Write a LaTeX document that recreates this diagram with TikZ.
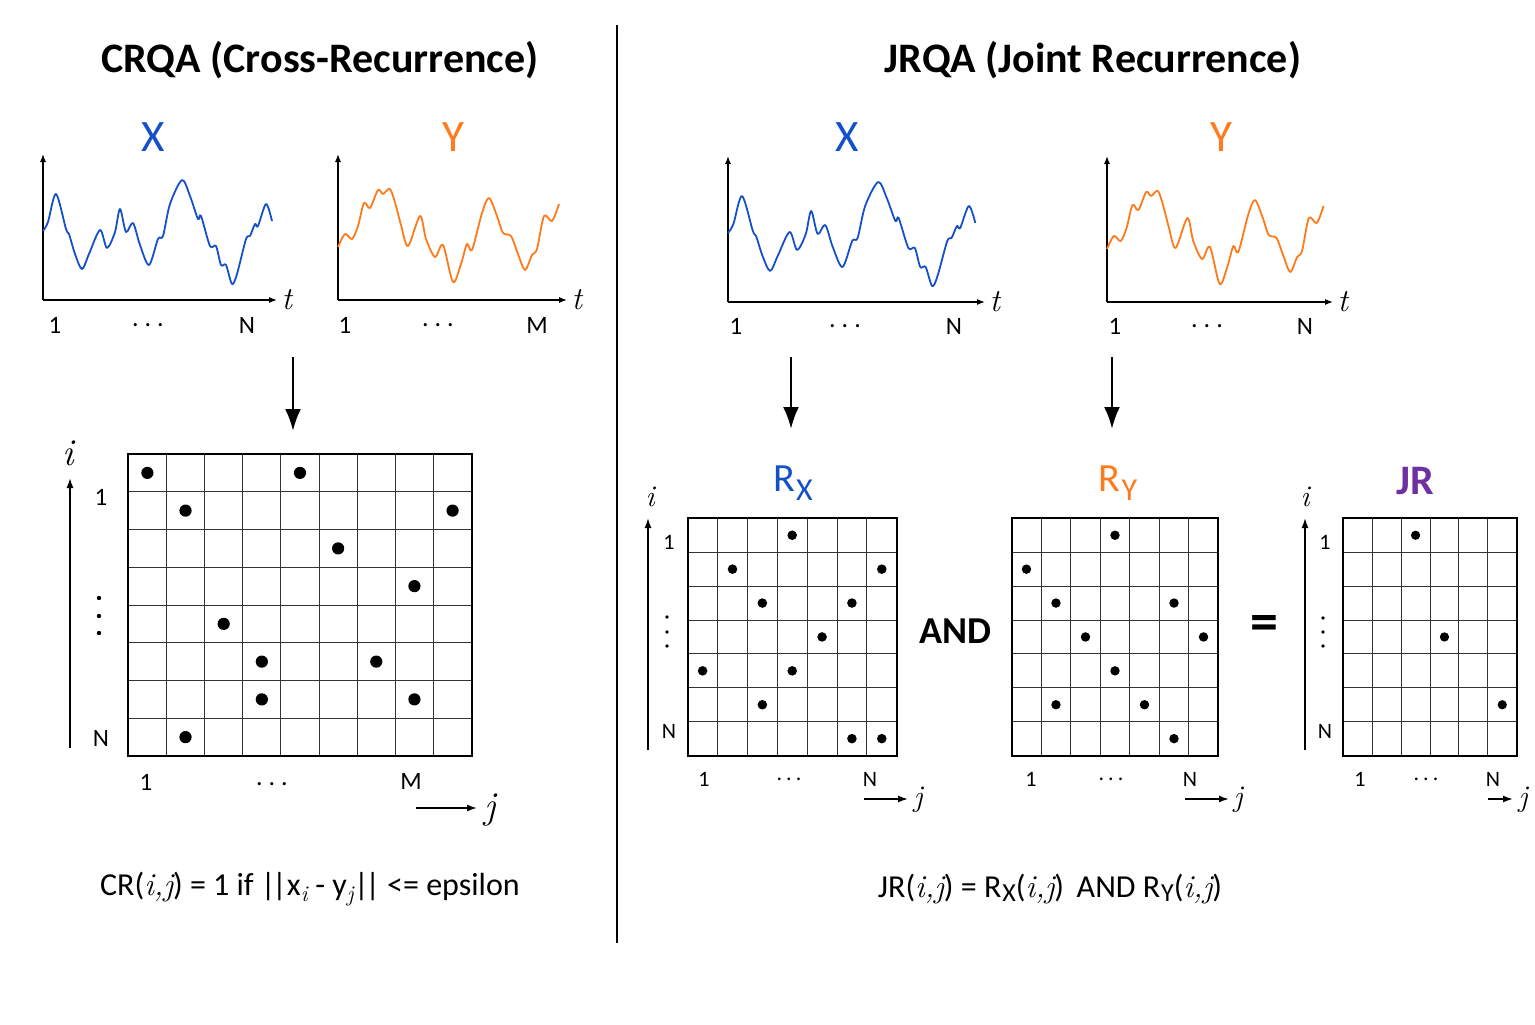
\documentclass[tikz,border=0pt]{standalone}
\usepackage{fontspec}
\setmainfont{Carlito}
\newfontfamily\lmfont{Latin Modern Roman}
\usetikzlibrary{arrows.meta}

\definecolor{seriesblue}{HTML}{1450C8}
\definecolor{seriesorange}{HTML}{FF7A1A}
\definecolor{jrpurple}{HTML}{7030A0}

\newcommand{\setfs}[1]{\fontsize{#1}{#1}\selectfont}
\newcommand{\mi}[1]{{\lmfont\itshape #1}}
\newcommand{\hdotrow}[1]{.\kern#1.\kern#1.}
\newcommand{\rsub}[2]{R\kern1pt\raisebox{-#2}{#1}}
\newcommand{\dbar}{|\kern-3.5pt|}

% wave shapes, relative to the plot origin
\def\xwave{(0,-69) (5,-78) (13,-106) (23,-71) (26,-66) (32,-46) (39,-31) (46,-46) (57,-70) (64,-52) (72,-68) (77,-91) (83,-68) (90,-77) (97,-55) (106,-35) (115,-61) (120,-64) (127,-96) (139,-120) (147,-104) (155,-81) (158,-84) (167,-54) (173,-54) (178,-35) (183,-35) (189,-16) (194,-26) (203,-61) (207,-64) (212,-76) (215,-74) (223,-96) (229,-79)}
\def\ywave{(0,-53) (7,-66) (14,-61) (20,-74) (26,-97) (32,-92) (40,-110) (45,-106) (52,-111) (58,-94) (63,-75) (70,-54) (82,-84) (88,-61) (97,-43) (105,-55) (115,-18) (123,-36) (129,-56) (134,-50) (144,-87) (151,-102) (159,-84) (165,-67) (173,-64) (180,-46) (187,-30) (194,-45) (199,-51) (206,-84) (214,-79) (221,-96)}

% name, origin, x-axis length, xscale, colour, wave
\newcommand{\tsplot}[6]{%
  \coordinate (#1) at (#2);
  \draw[tsaxis] (#1) -- ++(0,-146);
  \draw[tsaxis] (#1) -- ++(#3,0) node[tlabel, right] (#1-t) {\mi{t}};
  \begin{scope}[shift={(#1)}, xscale=#4]
    \edef\wavepath{\noexpand\draw[series, #5] plot[smooth, tension=0.5] coordinates {#6};}
    \wavepath
  \end{scope}
}

% name, x0, y0, cell width, cell height, columns, rows, dots
\newcommand{\recgrid}[8]{%
  \pgfmathsetmacro\gridw{#4*#6}%
  \pgfmathsetmacro\gridh{#5*#7}%
  \pgfmathtruncatemacro\lastcol{#6-1}%
  \pgfmathtruncatemacro\lastrow{#7-1}%
  \pgfmathsetmacro\dotr{0.16*#4}%
  \foreach \k in {1,...,\lastcol}
    \draw[gridline] ({#2+\k*#4},#3) -- ++(0,\gridh);
  \foreach \k in {1,...,\lastrow}
    \draw[gridline] (#2,{#3+\k*#5}) -- ++(\gridw,0);
  \node[gridframe, anchor=north west, minimum width=\gridw pt,
    minimum height=\gridh pt] (#1) at (#2,#3) {};
  \foreach \c/\r in {#8}
    \fill ({#2+(\c-0.5)*#4},{#3+(\r-0.5)*#5}) circle[radius=\dotr];
}

\begin{document}
\begin{tikzpicture}[x=1pt,y=-1pt,
    title/.style={font=\setfs{42}\bfseries},
    serieslabel/.style={font=\setfs{45}},
    series/.style={line width=1.8pt, line join=round},
    tsaxis/.style={line width=1.2pt, -{Latex[length=8pt,width=6pt]}},
    tlabel/.style={font=\setfs{32}, inner sep=4pt},
    tick/.style={font=\setfs{25}, inner sep=0pt},
    smalltick/.style={font=\setfs{22}, inner sep=0pt},
    hdots/.style={font=\setfs{26}, inner sep=0pt},
    smallhdots/.style={font=\setfs{22}, inner sep=0pt},
    gridline/.style={line width=0.9pt, black!80},
    gridframe/.style={draw, line width=1.9pt, inner sep=0pt, outer sep=0pt},
    idxarrow/.style={line width=1.5pt, -{Latex[length=10pt,width=7pt]}},
    downarrow/.style={line width=2.6pt, -{Latex[length=22pt,width=16pt]}},
    idx/.style={font=\setfs{38}, inner sep=0pt},
    smallidx/.style={font=\setfs{30}, inner sep=0pt},
    formula/.style={font=\setfs{32}}
  ]
  \useasboundingbox (0,0) rectangle (1535,1025);

  % divider
  \draw[line width=1.5pt] (617,25) -- (617,943);

  % titles
  \node[title] (crqa) at (320,60) {CRQA (Cross-Recurrence)};
  \node[title] (jrqa) at (1093,60) {JRQA (Joint Recurrence)};

  % time series
  \node[serieslabel, seriesblue] (crXlab) at (153,137) {X};
  \node[serieslabel, seriesorange] (crYlab) at (453,137) {Y};
  \node[serieslabel, seriesblue] (jrXlab) at (847,137) {X};
  \node[serieslabel, seriesorange] (jrYlab) at (1221,137) {Y};

  \tsplot{crX}{43,300}{234}{1}{seriesblue}{\xwave}
  \tsplot{crY}{338,300}{229}{1}{seriesorange}{\ywave}
  \tsplot{jrX}{728,302}{257}{1.08}{seriesblue}{\xwave}
  \tsplot{jrY}{1107,302}{226}{0.98}{seriesorange}{\ywave}

  \node[tick] (crX-1) at (55,325) {1};
  \node[hdots] (crX-d) at (148,325) {\hdotrow{6pt}};
  \node[tick] (crX-N) at (247,325) {N};
  \node[tick] (crY-1) at (345,325) {1};
  \node[hdots] (crY-d) at (438,325) {\hdotrow{6pt}};
  \node[tick] (crY-M) at (537,325) {M};
  \node[tick] (jrX-1) at (736,326) {1};
  \node[hdots] (jrX-d) at (845,326) {\hdotrow{6pt}};
  \node[tick] (jrX-N) at (954,326) {N};
  \node[tick] (jrY-1) at (1115,326) {1};
  \node[hdots] (jrY-d) at (1207,326) {\hdotrow{6pt}};
  \node[tick] (jrY-N) at (1305,326) {N};

  % arrows down
  \coordinate (crA) at (293,357);
  \coordinate (crB) at (293,431);
  \coordinate (rxA) at (791,357);
  \coordinate (rxB) at (791,429);
  \coordinate (ryA) at (1112,357);
  \coordinate (ryB) at (1112,429);
  \draw[downarrow] (crA) -- (crB);
  \draw[downarrow] (rxA) -- (rxB);
  \draw[downarrow] (ryA) -- (ryB);

  % cross-recurrence matrix
  \recgrid{crM}{128.3}{454}{38.15}{37.75}{9}{8}%
    {1/1,5/1,2/2,9/2,6/3,8/4,3/5,4/6,7/6,4/7,8/7,2/8}
  \coordinate (crI0) at (70,748);
  \coordinate (crI1) at (70,478);
  \draw[idxarrow] (crI0) -- (crI1);
  \node[idx] (crI) at (68,453) {\mi{i}};
  \node[tick] (crM-r1) at (101,497) {1};
  \foreach \v in {598,616,633} \fill (99,\v) circle[radius=2.2];
  \node[tick] (crM-rN) at (101,738) {N};
  \node[tick] (crM-c1) at (146,782) {1};
  \node[hdots] (crM-cd) at (272,784) {\hdotrow{6pt}};
  \node[tick] (crM-cM) at (411,781) {M};
  \coordinate (crJ0) at (416,808);
  \coordinate (crJ1) at (477,808);
  \draw[idxarrow] (crJ0) -- (crJ1);
  \node[idx] (crJ) at (490,810) {\mi{j}};

  % R_X
  \node[font=\setfs{40}, seriesblue] (rxlab) at (793,483) {\rsub{\setfs{32}X}{9pt}};
  \recgrid{rxM}{687.7}{518.3}{29.86}{33.9}{7}{7}%
    {4/1,2/2,7/2,3/3,6/3,5/4,1/5,4/5,3/6,6/7,7/7}
  \coordinate (rxI0) at (648,750);
  \coordinate (rxI1) at (648,518);
  \draw[idxarrow] (rxI0) -- (rxI1);
  \node[smallidx] (rxI) at (650,497) {\mi{i}};
  \node[smalltick] (rxM-r1) at (669,542) {1};
  \foreach \v in {617,632,646} \fill (667,\v) circle[radius=1.8];
  \node[smalltick] (rxM-rN) at (669,731) {N};
  \node[smalltick] (rxM-c1) at (704,779) {1};
  \node[smallhdots] (rxM-cd) at (789,779) {\hdotrow{4pt}};
  \node[smalltick] (rxM-cN) at (870,779) {N};
  \coordinate (rxJ0) at (864,799);
  \coordinate (rxJ1) at (908,799);
  \draw[idxarrow] (rxJ0) -- (rxJ1);
  \node[smallidx] (rxJ) at (918,800) {\mi{j}};

  \node[font=\setfs{38}\bfseries] (and) at (955,631) {AND};

  % R_Y
  \node[font=\setfs{40}, seriesorange] (rylab) at (1118,483) {\rsub{\setfs{32}Y}{9pt}};
  \recgrid{ryM}{1011.7}{518.3}{29.51}{33.9}{7}{7}%
    {4/1,1/2,2/3,6/3,3/4,7/4,4/5,2/6,5/6,6/7}
  \node[smalltick] (ryM-c1) at (1031,779) {1};
  \node[smallhdots] (ryM-cd) at (1111,779) {\hdotrow{4pt}};
  \node[smalltick] (ryM-cN) at (1190,779) {N};
  \coordinate (ryJ0) at (1185,799);
  \coordinate (ryJ1) at (1229,799);
  \draw[idxarrow] (ryJ0) -- (ryJ1);
  \node[smallidx] (ryJ) at (1238,800) {\mi{j}};

  \node[font=\setfs{56}\bfseries] (eq) at (1264,628) {=};

  % JR
  \node[font=\setfs{42}\bfseries, jrpurple] (jrlab) at (1415,481) {JR};
  \recgrid{jrM}{1343.3}{518.3}{28.9}{33.9}{6}{7}%
    {3/1,4/4,6/6}
  \coordinate (jrI0) at (1305,750);
  \coordinate (jrI1) at (1305,518);
  \draw[idxarrow] (jrI0) -- (jrI1);
  \node[smallidx] (jrI) at (1305,497) {\mi{i}};
  \node[smalltick] (jrM-r1) at (1325,542) {1};
  \foreach \v in {618,632,646} \fill (1323,\v) circle[radius=1.8];
  \node[smalltick] (jrM-rN) at (1325,731) {N};
  \node[smalltick] (jrM-c1) at (1360,779) {1};
  \node[smallhdots] (jrM-cd) at (1426,779) {\hdotrow{4pt}};
  \node[smalltick] (jrM-cN) at (1493,779) {N};
  \coordinate (jrJ0) at (1488,799);
  \coordinate (jrJ1) at (1513,799);
  \draw[idxarrow] (jrJ0) -- (jrJ1);
  \node[smallidx] (jrJ) at (1523,800) {\mi{j}};

  % formulas
  \node[formula] (crf) at (310,889)
    {CR(\mi{i,j}) = 1 if \dbar x\textsubscript{\mi{i}} - y\textsubscript{\mi{j}}\dbar{} <= epsilon};
  \node[formula] (jrf) at (1050,889)
    {JR(\mi{i,j}) = \rsub{\setfs{26}X}{4pt}(\mi{i,j})\, AND \rsub{\setfs{26}Y}{4pt}(\mi{i,j})};
\end{tikzpicture}
\end{document}
